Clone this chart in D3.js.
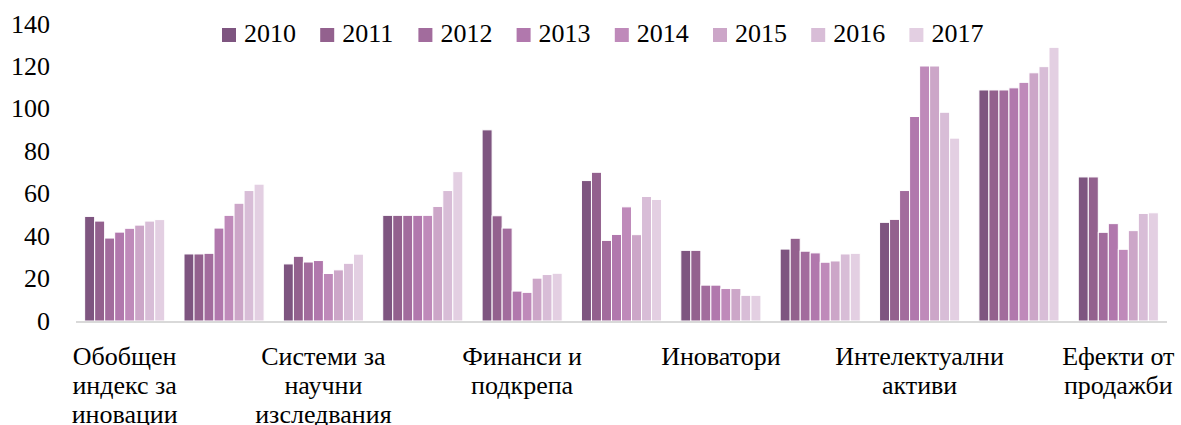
<!DOCTYPE html>
<html>
<head>
<meta charset="utf-8">
<script src="https://cdn.jsdelivr.net/npm/d3@7"></script>
</head>
<body style="margin:0">
<svg id="chart" width="1181" height="425" font-family="Liberation Serif" style="font-family:'Liberation Serif'"></svg>
<script>
var categories = [
  "Обобщен индекс за иновации",
  "Човешки ресурси",
  "Системи за научни изследвания",
  "Благоприятна среда",
  "Финанси и подкрепа",
  "Инвестиции на фирмите",
  "Иноватори",
  "Връзки",
  "Интелектуални активи",
  "Въздействие върху заетостта",
  "Ефекти от продажби"
];
var years = ["2010", "2011", "2012", "2013", "2014", "2015", "2016", "2017"];
var colors = ["#7e5580", "#93618e", "#a26c9d", "#b178ad", "#bf8aba", "#cca6c8", "#d8bdd7", "#e3cfe2"];

// one array per category, values for 2010..2017
var values = [
  [49.3, 47.1, 39.1, 41.9, 43.7, 45.2, 47.1, 47.8],
  [31.6, 31.6, 31.9, 43.8, 49.8, 55.5, 61.5, 64.5],
  [26.9, 30.5, 27.8, 28.5, 22.4, 24.1, 27.2, 31.5],
  [49.8, 49.8, 49.8, 49.8, 49.8, 54.0, 61.5, 70.4],
  [90.1, 49.6, 43.8, 14.1, 13.5, 20.2, 21.9, 22.5],
  [66.2, 70.1, 38.0, 40.8, 53.8, 40.7, 58.7, 57.3],
  [33.3, 33.3, 16.9, 16.9, 15.3, 15.3, 12.1, 12.1],
  [33.9, 39.0, 32.9, 32.1, 27.7, 28.3, 31.6, 31.9],
  [46.5, 47.9, 61.5, 96.4, 120.2, 120.2, 98.4, 86.2],
  [108.9, 108.9, 108.9, 109.9, 112.5, 117.0, 119.9, 129.0],
  [67.9, 67.9, 41.8, 45.9, 33.8, 42.6, 50.7, 51.0]
];
var yTicks = [0, 20, 40, 60, 80, 100, 120, 140];

var cfg = {
  left: 75,
  right: 1168,
  base: 321,
  top: 24,
  font: "'Liberation Serif'"
};

var svg = d3.select("#chart");

var x0 = d3.scaleBand()
    .domain(categories)
    .range([cfg.left, cfg.right]);

var x1 = d3.scaleBand()
    .domain(years)
    .range([x0.bandwidth() * 0.097, x0.bandwidth() * 0.903]);

var y = d3.scaleLinear()
    .domain([0, 140])
    .range([cfg.base, cfg.top]);

// y labels
svg.selectAll(".ylab")
    .data(yTicks).enter()
    .append("text")
    .attr("class", "ylab")
    .attr("x", 50)
    .attr("y", function(d) { return y(d); })
    .attr("dy", "0.33em")
    .attr("text-anchor", "end")
    .attr("font-family", "Liberation Serif")
    .style("font-family", cfg.font)
    .style("font-size", "26px")
    .text(function(d) { return d; });

// bars
var groups = svg.selectAll(".grp")
    .data(categories).enter()
    .append("g")
    .attr("class", "grp")
    .attr("transform", function(d) { return "translate(" + x0(d) + ",0)"; });

groups.selectAll("rect")
    .data(function(d, i) { return values[i].map(function(v, j) { return { year: years[j], v: v, c: colors[j] }; }); })
    .enter()
    .append("rect")
    .attr("x", function(d) { return x1(d.year); })
    .attr("width", x1.bandwidth())
    .attr("y", function(d) { return y(d.v); })
    .attr("height", function(d) { return y(0) - y(d.v); })
    .style("fill", function(d) { return d.c; })
    .style("stroke", "#fff")
    .style("stroke-width", 1);

// axis line
svg.append("line")
    .attr("x1", cfg.left + 1)
    .attr("x2", cfg.right - 1)
    .attr("y1", y(0) + 1)
    .attr("y2", y(0) + 1)
    .style("stroke", "#d9d9d9")
    .style("stroke-width", 2);

// category labels, every second one shown
svg.selectAll(".cat")
    .data(categories.filter(function(d, i) { return i % 2 === 0; })).enter()
    .append("text")
    .attr("class", "cat")
    .attr("x", function(d) { return x0(d) + x0.bandwidth() / 2; })
    .attr("y", 365)
    .attr("text-anchor", "middle")
    .attr("font-family", "Liberation Serif")
    .style("font-family", cfg.font)
    .style("font-size", "26px")
    .text(function(d) { return d; })
    .call(wrap, 135);

// legend
var legend = svg.selectAll(".leg")
    .data(years).enter()
    .append("g")
    .attr("class", "leg")
    .attr("transform", function(d, i) { return "translate(" + (222 + i * 98.2) + ",28)"; });

legend.append("rect")
    .attr("width", 14)
    .attr("height", 14)
    .style("fill", function(d, i) { return colors[i]; });

legend.append("text")
    .attr("x", 22)
    .attr("y", 14)
    .attr("font-family", "Liberation Serif")
    .style("font-family", cfg.font)
    .style("font-size", "26px")
    .text(function(d) { return d; });

function wrap(text, width) {
  text.each(function() {
    var text = d3.select(this),
        words = text.text().split(/\s+/).reverse(),
        word,
        line = [],
        lineNumber = 0,
        lineHeight = 29,
        x = text.attr("x"),
        y = +text.attr("y"),
        tspan = text.text(null).append("tspan").attr("x", x).attr("y", y);
    while (word = words.pop()) {
      line.push(word);
      tspan.text(line.join(" "));
      if (tspan.node().getComputedTextLength() > width && line.length > 1) {
        line.pop();
        tspan.text(line.join(" "));
        line = [word];
        tspan = text.append("tspan").attr("x", x).attr("y", y + (++lineNumber) * lineHeight).text(word);
      }
    }
  });
}
</script>
</body>
</html>
